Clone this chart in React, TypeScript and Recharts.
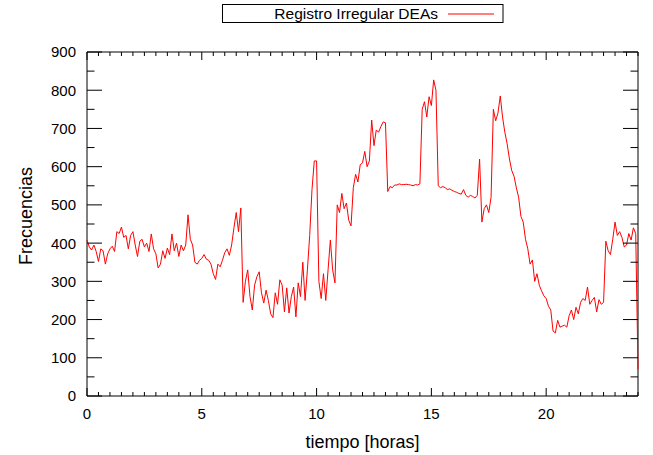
import React from 'react';
import { LineChart, Line, XAxis, YAxis, ReferenceArea, Legend } from 'recharts';

// Frequency samples, one every 0.1 hour from 0.0 h to 24.0 h
const frecuencias: number[] = [
  408, 390, 382, 395, 378, 352, 385, 380, 345, 372,
  385, 392, 378, 430, 425, 442, 415, 420, 385, 420,
  430, 395, 365, 405, 410, 390, 400, 378, 424, 385,
  372, 335, 345, 380, 360, 387, 370, 424, 380, 400,
  365, 395, 380, 395, 474, 410, 395, 350, 345, 355,
  360, 370, 358, 355, 345, 320, 305, 345, 338, 355,
  375, 385, 368, 395, 440, 480, 430, 492, 245, 300,
  330, 260, 225, 290, 312, 325, 270, 243, 277, 250,
  215, 205, 270, 240, 304, 290, 220, 283, 217, 260,
  285, 207, 296, 260, 350, 250, 330, 420, 540, 615,
  615, 300, 255, 320, 250, 330, 408, 330, 296, 500,
  480, 530, 490, 505, 460, 445, 545, 580, 560, 605,
  610, 640, 600, 615, 722, 655, 696, 690, 705, 717,
  715, 535, 548, 545, 552, 552, 555, 553, 553, 554,
  553, 552, 550, 553, 552, 555, 750, 770, 730, 783,
  760, 827, 800, 550, 545, 548, 545, 540, 542, 538,
  535, 533, 530, 528, 540, 525, 520, 525, 522, 518,
  525, 620, 455, 490, 500, 480, 520, 750, 720, 740,
  785, 730, 690, 660, 620, 590, 575, 545, 520, 470,
  455, 410, 385, 345, 356, 300, 320, 290, 275, 262,
  255, 235, 225, 170, 165, 198, 180, 183, 185, 180,
  210, 225, 200, 232, 215, 245, 255, 250, 285, 240,
  250, 258, 220, 252, 240, 245, 405, 380, 370, 410,
  455, 420, 430, 415, 390, 395, 425, 408, 440, 425,
  70,
];
const SAMPLE_STEP_H = 0.1;

const xTicks = [
  0, 0.5, 1, 1.5, 2, 2.5, 3, 3.5, 4, 4.5, 5, 5.5, 6, 6.5, 7, 7.5, 8, 8.5, 9, 9.5,
  10, 10.5, 11, 11.5, 12, 12.5, 13, 13.5, 14, 14.5, 15, 15.5, 16, 16.5, 17, 17.5,
  18, 18.5, 19, 19.5, 20, 20.5, 21, 21.5, 22, 22.5, 23, 23.5, 24,
];
const xMajor = [0, 5, 10, 15, 20];
const yTicks = [0, 50, 100, 150, 200, 250, 300, 350, 400, 450, 500, 550, 600, 650, 700, 750, 800, 850, 900];
const yMajor = [0, 100, 200, 300, 400, 500, 600, 700, 800, 900];

const seriesName = 'Registro Irregular DEAs';
const xTitle = 'tiempo [horas]';
const yTitle = 'Frecuencias';

const data = frecuencias.map((v, i) => ({ t: Math.round(i * SAMPLE_STEP_H * 10) / 10, f: v }));

const W = 653;
const H = 455;
const PL = 87;
const PR = 638;
const PT = 52;
const PB = 396;
const FONT = '"Liberation Sans", Arial, sans-serif';

const YTick = (props: any) => {
  const { y, payload } = props;
  const v = payload.value;
  const major = yMajor.includes(v);
  const len = major ? 15 : 7.5;
  return (
    <g>
      <line x1={PL} x2={PL + len} y1={y} y2={y} stroke="#000" strokeWidth={1} />
      <line x1={PR - len} x2={PR} y1={y} y2={y} stroke="#000" strokeWidth={1} />
      {major && (
        <text x={PL - 11} y={y} dy="0.36em" textAnchor="end" fontSize={15} fontFamily={FONT} fill="#000">
          {v}
        </text>
      )}
    </g>
  );
};

const XTick = (props: any) => {
  const { x, payload } = props;
  const v = payload.value;
  const major = xMajor.includes(v);
  const len = major ? 8 : 4;
  return (
    <g>
      <line x1={x} x2={x} y1={PB} y2={PB - len} stroke="#000" strokeWidth={1} />
      <line x1={x} x2={x} y1={PT} y2={PT + len} stroke="#000" strokeWidth={1} />
      {major && (
        <text x={x} y={PB + 23} textAnchor="middle" fontSize={15} fontFamily={FONT} fill="#000">
          {v}
        </text>
      )}
    </g>
  );
};

const LegendBox = (props: any) => {
  const item = props.payload && props.payload[0];
  const color = item ? item.color : '#ff0000';
  const label = item ? item.value : seriesName;
  return (
    <div style={{ position: 'relative', height: 0 }}>
      <svg width={W} height={30} style={{ position: 'absolute', left: 0, top: 0 }}>
        <rect x={222.5} y={4.5} width={280.5} height={18} fill="#fff" stroke="#000" strokeWidth={1} />
        <text x={438} y={18.5} textAnchor="end" fontSize={15.5} fontFamily={FONT} fill="#000">
          {label}
        </text>
        <line x1={448} x2={494} y1={14} y2={14} stroke={color} strokeWidth={1} />
      </svg>
    </div>
  );
};

export default function App() {
  return (
    <div style={{ position: 'absolute', left: 0, top: 0, width: W, height: H, background: '#fff' }}>
      <LineChart width={W} height={H} data={data} margin={{ top: PT, right: W - PR, bottom: 29, left: 0 }}>
        <ReferenceArea x1={0} x2={24} y1={0} y2={900} fill="none" stroke="#000" strokeWidth={1} />
        <XAxis
          dataKey="t"
          type="number"
          domain={[0, 24]}
          ticks={xTicks}
          interval={0}
          height={30}
          axisLine={false}
          tickLine={false}
          tickSize={0}
          tick={<XTick />}
          label={{
            content: () => (
              <text x={(PL + PR) / 2} y={448} textAnchor="middle" fontSize={18} fontFamily={FONT} fill="#000">
                {xTitle}
              </text>
            ),
          }}
        />
        <YAxis
          type="number"
          domain={[0, 900]}
          ticks={yTicks}
          interval={0}
          width={PL}
          axisLine={false}
          tickLine={false}
          tickSize={0}
          tick={<YTick />}
          label={{
            content: () => (
              <text
                x={32}
                y={216}
                transform="rotate(-90 32 216)"
                textAnchor="middle"
                fontSize={18}
                fontFamily={FONT}
                fill="#000"
              >
                {yTitle}
              </text>
            ),
          }}
        />
        <Legend
          verticalAlign="top"
          wrapperStyle={{ top: 0, left: 0, width: W, height: 0 }}
          content={(p: any) => <LegendBox payload={p.payload} />}
        />
        <Line
          type="linear"
          dataKey="f"
          name={seriesName}
          stroke="#ff0000"
          strokeWidth={1}
          dot={false}
          activeDot={false}
          isAnimationActive={false}
        />
      </LineChart>
    </div>
  );
}
